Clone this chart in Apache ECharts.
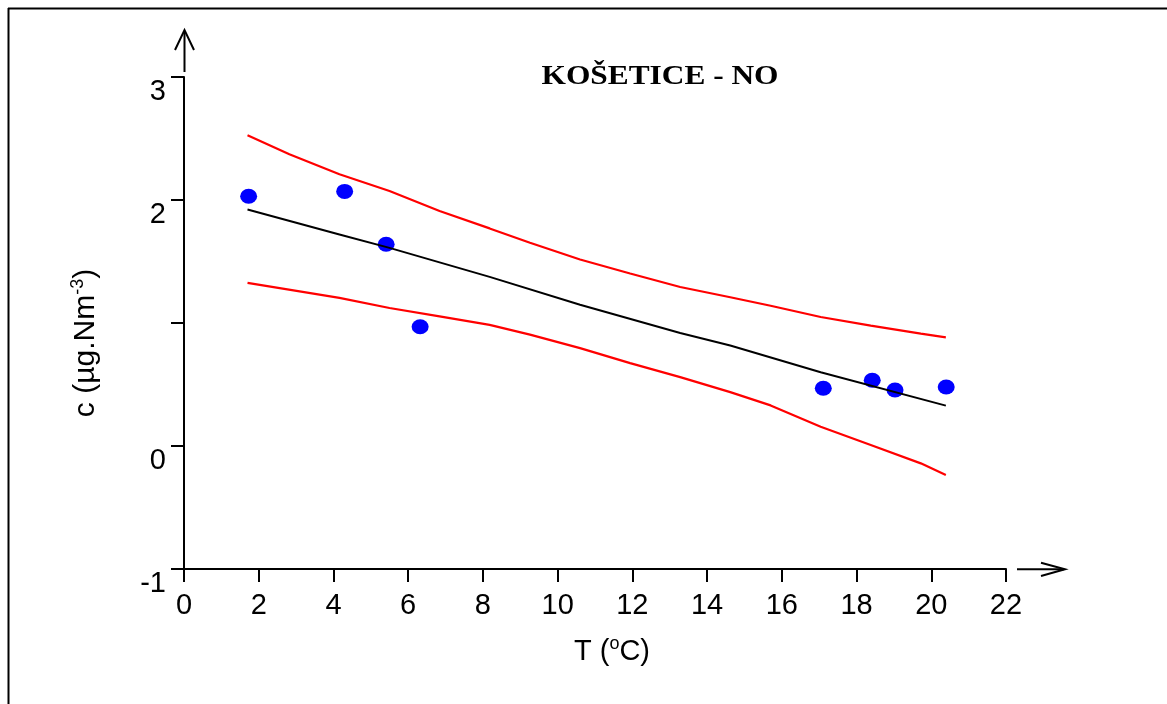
<!DOCTYPE html>
<html>
<head>
<meta charset="utf-8">
<script src="https://cdn.jsdelivr.net/npm/echarts@6/dist/echarts.min.js"></script>
<style>
html,body{margin:0;padding:0;background:#fff;}
#chart{width:1167px;height:704px;}
</style>
</head>
<body>
<div id="chart"></div>
<script>
// ---- data ----
const titleText = 'KOŠETICE - NO';
const xTicks = [0, 2, 4, 6, 8, 10, 12, 14, 16, 18, 20, 22];
const yTickLabels = {'-1': '-1', '0': '0', '1': '', '2': '2', '3': '3'};

const pointsT = [1.73, 4.30, 5.41, 6.32, 17.11, 18.42, 19.03, 20.40];
const pointsC = [2.03, 2.07, 1.64, 0.97, 0.47, 0.535, 0.455, 0.48];

const fitT = [1.70, 4.16, 5.50, 8.18, 10.60, 13.28, 14.62, 17.04, 20.39];
const fitC = [1.923, 1.720, 1.611, 1.375, 1.149, 0.918, 0.817, 0.600, 0.328];

const upperT = [1.70, 2.82, 4.16, 5.50, 6.84, 8.18, 9.26, 10.60, 11.94, 13.28, 14.62, 15.70, 17.04, 18.38, 19.72, 20.39];
const upperC = [2.527, 2.372, 2.209, 2.073, 1.910, 1.769, 1.652, 1.516, 1.402, 1.293, 1.209, 1.140, 1.049, 0.978, 0.913, 0.883];

const lowerT = [1.70, 4.16, 5.50, 6.84, 8.18, 9.26, 10.60, 11.94, 13.28, 14.62, 15.70, 17.04, 18.38, 19.72, 20.39];
const lowerC = [1.326, 1.204, 1.122, 1.054, 0.985, 0.905, 0.796, 0.674, 0.560, 0.438, 0.330, 0.157, 0.008, -0.141, -0.236];

function pairs(xs, ys) { return xs.map((x, i) => [x, ys[i]]); }

const chart = echarts.init(document.getElementById('chart'), null, {renderer: 'canvas'});
const FONT = "'Liberation Sans', Arial, sans-serif";

const option = {
  backgroundColor: '#ffffff',
  animation: false,
  grid: {left: 184, top: 77, right: 161, bottom: 135, containLabel: false},
  xAxis: {
    type: 'value', min: xTicks[0], max: xTicks[xTicks.length - 1], interval: 2,
    splitLine: {show: false},
    axisLine: {onZero: false, lineStyle: {color: '#000', width: 2}},
    axisTick: {length: 13, lineStyle: {color: '#000', width: 2}},
    axisLabel: {color: '#000', fontFamily: FONT, fontSize: 29, margin: 22}
  },
  yAxis: {
    type: 'value', min: -1, max: 3, interval: 1,
    splitLine: {show: false},
    axisLine: {onZero: false, lineStyle: {color: '#000', width: 2}},
    axisTick: {length: 13, lineStyle: {color: '#000', width: 2}},
    axisLabel: {
      color: '#000', fontFamily: FONT, fontSize: 29, margin: 18,
      verticalAlign: 'top',
      formatter: v => yTickLabels[String(v)] ?? String(v)
    }
  },
  series: [
    {
      type: 'scatter', data: pairs(pointsT, pointsC),
      symbol: 'circle', symbolSize: [17, 15],
      itemStyle: {color: '#0000ff', opacity: 1}, z: 2
    },
    {
      type: 'line', data: pairs(fitT, fitC), showSymbol: false, smooth: false,
      lineStyle: {color: '#000000', width: 2}, z: 3
    },
    {
      type: 'line', data: pairs(upperT, upperC), showSymbol: false, smooth: false,
      lineStyle: {color: '#ff0000', width: 2.2}, z: 3
    },
    {
      type: 'line', data: pairs(lowerT, lowerC), showSymbol: false, smooth: false,
      lineStyle: {color: '#ff0000', width: 2.2}, z: 3
    }
  ],
  graphic: [
    // frame lines
    {type: 'line', shape: {x1: 8, y1: 8.5, x2: 1167, y2: 8.5}, style: {stroke: '#000', lineWidth: 2}},
    {type: 'line', shape: {x1: 8.5, y1: 8, x2: 8.5, y2: 704}, style: {stroke: '#000', lineWidth: 2}},
    // y arrow
    {type: 'line', shape: {x1: 184.5, y1: 72, x2: 184.5, y2: 31}, style: {stroke: '#000', lineWidth: 2}},
    {type: 'polyline', shape: {points: [[175, 50], [184.5, 30], [194, 50]]}, style: {stroke: '#000', lineWidth: 2, fill: null}},
    // x arrow
    {type: 'line', shape: {x1: 1017, y1: 569.3, x2: 1064, y2: 569.3}, style: {stroke: '#000', lineWidth: 2}},
    {type: 'polyline', shape: {points: [[1041, 562.7], [1065, 569.3], [1041, 576]]}, style: {stroke: '#000', lineWidth: 2, fill: null}},
    // title
    {
      type: 'text', x: 660, y: 77, scaleX: 1.12,
      style: {text: titleText, fontFamily: "'Liberation Serif', 'Times New Roman', serif",
        fontWeight: 'bold', fontSize: 28,
        fill: '#000', align: 'center', verticalAlign: 'middle'}
    },
    // x axis name
    {
      type: 'text', x: 612, y: 652,
      style: {
        text: '{a|T (}{s|o}{a|C)}', align: 'center', verticalAlign: 'middle', fill: '#000',
        rich: {
          a: {fontFamily: FONT, fontSize: 29, lineHeight: 34, fill: '#000'},
          s: {fontFamily: FONT, fontSize: 18, verticalAlign: 'top', lineHeight: 20, fill: '#000'}
        }
      }
    },
    // y axis name
    {
      type: 'text', x: 86, y: 343, rotation: Math.PI / 2,
      style: {
        text: '{a|c (µg.Nm}{s|-3}{a|)}', align: 'center', verticalAlign: 'middle', fill: '#000',
        rich: {
          a: {fontFamily: FONT, fontSize: 30, lineHeight: 34, fill: '#000'},
          s: {fontFamily: FONT, fontSize: 18, verticalAlign: 'top', lineHeight: 20, fill: '#000'}
        }
      }
    }
  ]
};
chart.setOption(option);
</script>
</body>
</html>
